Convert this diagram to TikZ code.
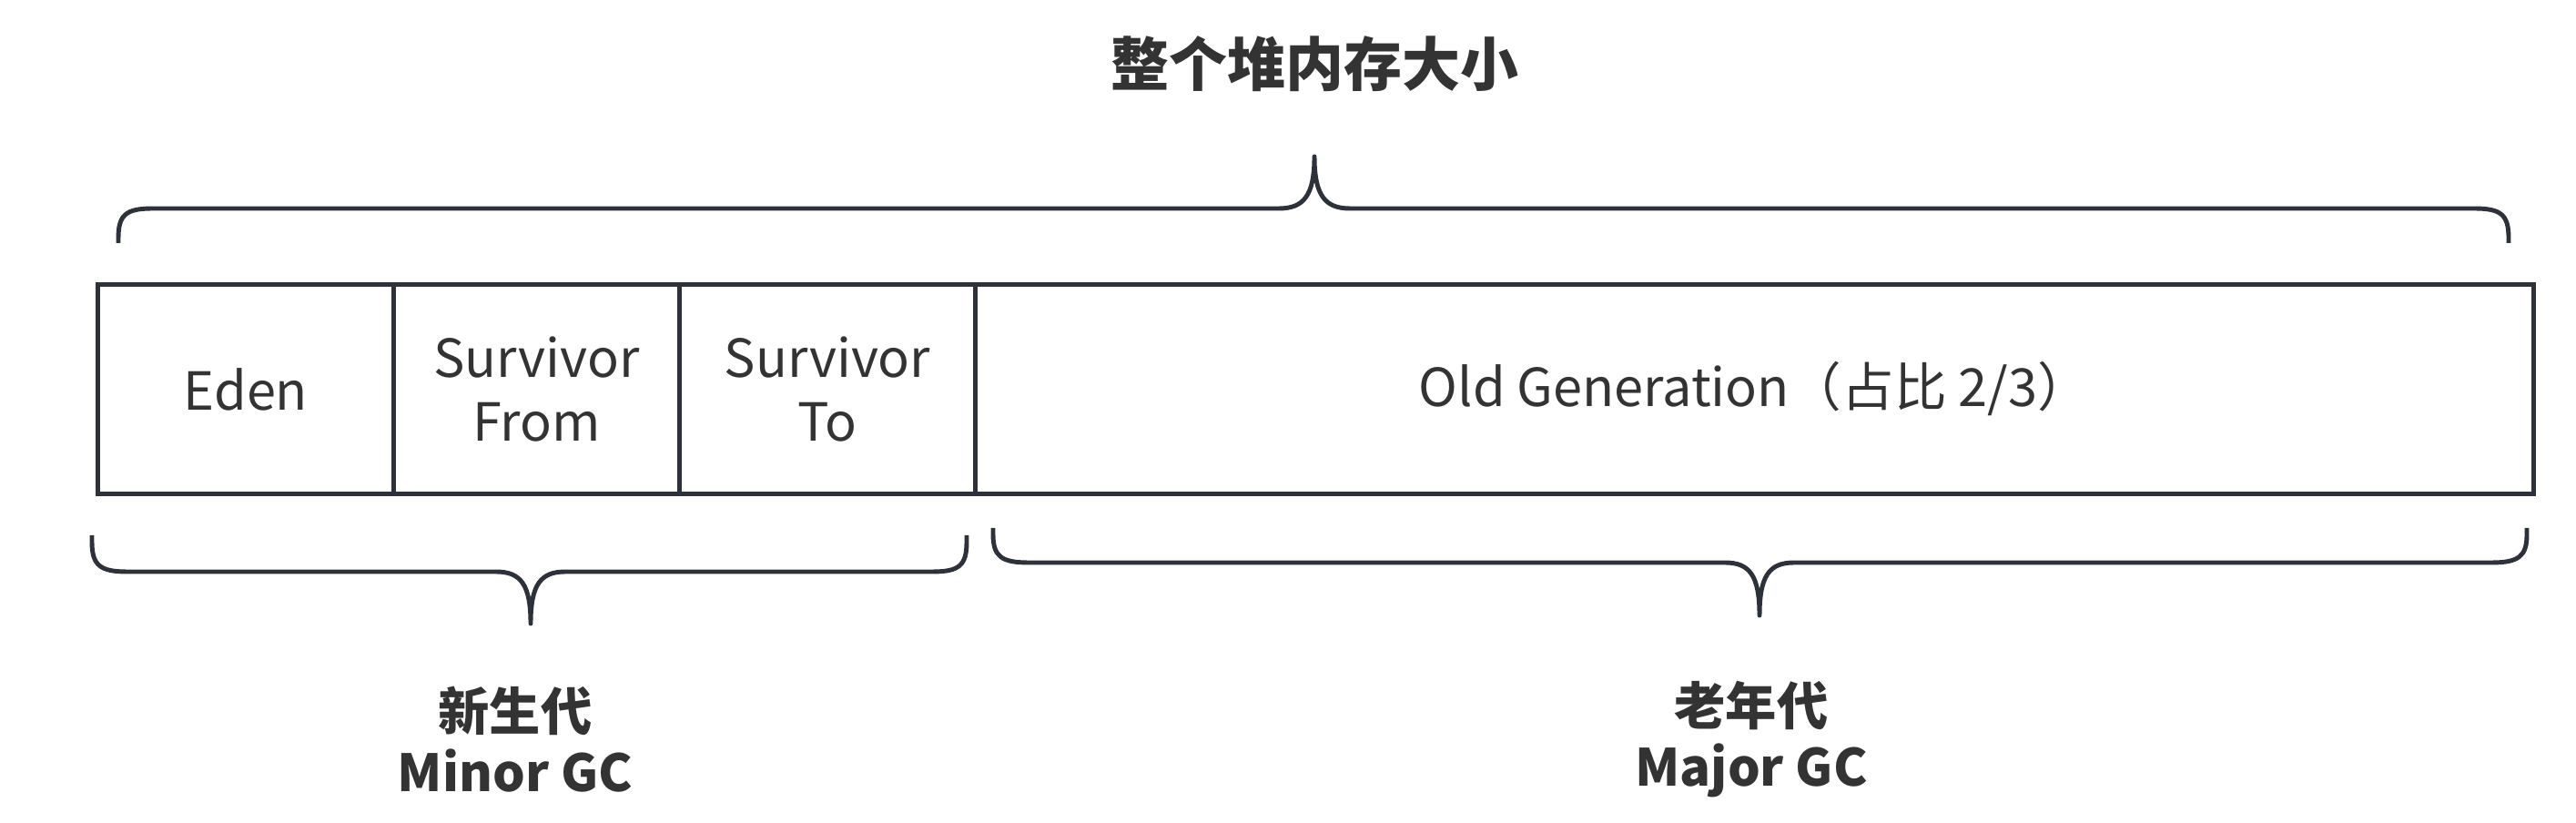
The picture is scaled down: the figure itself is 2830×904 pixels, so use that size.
\documentclass[tikz,border=0pt]{standalone}
\usepackage{fontspec}
\setmainfont{Noto Sans CJK SC}
\definecolor{linec}{HTML}{2D3139}
\definecolor{textc}{HTML}{333333}
\tikzset{
  cell/.style={draw=linec, line width=1.4pt, inner sep=0pt, anchor=north west,
    minimum height=230*0.01cm, text=textc, align=center,
    font=\fontsize{16.4}{20}\selectfont},
  bracep/.style={draw=linec, line width=1.4pt, line join=round},
  title/.style={text=textc, font=\fontsize{18.2}{21}\selectfont\bfseries, align=center},
  lbl/.style={text=textc, font=\fontsize{16}{19}\selectfont\bfseries, align=center},
}
\begin{document}
\begin{tikzpicture}[x=0.01cm, y=-0.01cm]
\useasboundingbox (0,0) rectangle (2830,904);
\node[title] (t) at (1444,70) {整个堆内存大小};
\node[cell, minimum width=325*0.01cm] (eden) at (105,310) {Eden};
\node[cell, minimum width=314*0.01cm] (from) at (430,310) {Survivor\\From};
\node[cell, minimum width=325*0.01cm] (to) at (744,310) {Survivor\\To};
\node[cell, minimum width=1712*0.01cm] (old) at (1069,310) {Old Generation（占比 2/3）};
% top brace
\draw[bracep] (130,267) -- (130,262) .. controls (130,236) and (138,229) .. (168,229) -- (1405,229)
  .. controls (1432,229) and (1444,215) .. (1444,172) .. controls (1444,215) and (1456,229) .. (1483,229)
  -- (2718,229) .. controls (2748,229) and (2756,236) .. (2756,262) -- (2756,267);
% bottom left brace
\draw[bracep] (101,588) -- (101,595) .. controls (101,621) and (110,628) .. (140,628) -- (545,628)
  .. controls (572,628) and (583,642) .. (583,685) .. controls (583,642) and (594,628) .. (621,628)
  -- (1024,628) .. controls (1054,628) and (1062,621) .. (1062,595) -- (1062,588);
% bottom right brace
\draw[bracep] (1091,580) -- (1091,587) .. controls (1091,611) and (1100,618) .. (1130,618) -- (1895,618)
  .. controls (1922,618) and (1933,632) .. (1933,676) .. controls (1933,632) and (1944,618) .. (1971,618)
  -- (2737,618) .. controls (2767,618) and (2776,611) .. (2776,587) -- (2776,580);
\node[lbl] (young) at (566,812) {新生代\\Minor GC};
\node[lbl] (oldl) at (1924,812) {老年代\\Major GC};
\end{tikzpicture}
\end{document}
